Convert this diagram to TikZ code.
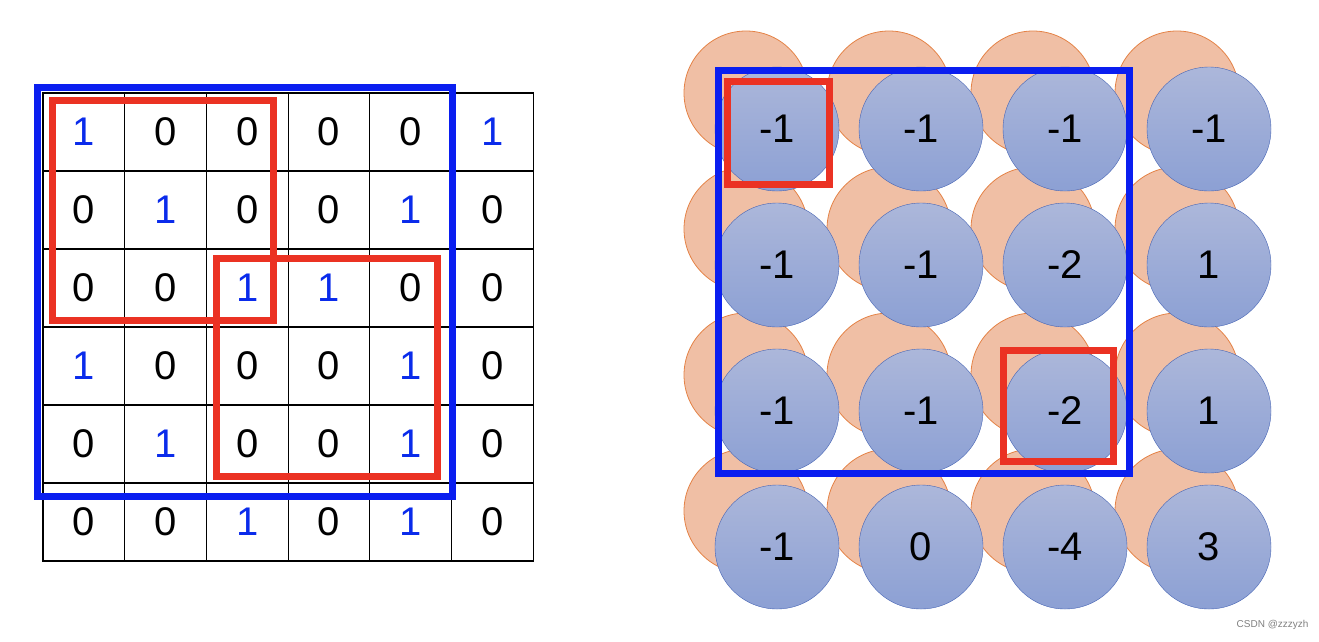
\documentclass[tikz,border=0pt]{standalone}
\usepackage{fontspec}
\setmainfont{Liberation Sans}
\begin{document}
\begin{tikzpicture}[x=1pt,y=-1pt,
 cell/.style={draw=black,line width=1.2pt,minimum width=81.7pt,minimum height=78pt,inner sep=0pt,font=\fontsize{40}{40}\selectfont},
 bl/.style={text={rgb,255:red,10;green,43;blue,235}},
 oc/.style={circle,draw={rgb,255:red,228;green,130;blue,70},line width=0.8pt,fill={rgb,255:red,240;green,191;blue,165},minimum size=124pt,inner sep=0pt},
 bc/.style={circle,draw={rgb,255:red,70;green,100;blue,180},top color={rgb,255:red,172;green,183;blue,218},bottom color={rgb,255:red,140;green,160;blue,212},minimum size=124pt,inner sep=0pt,font=\fontsize{40}{40}\selectfont},
 bframe/.style={draw={rgb,255:red,10;green,30;blue,240},line width=7pt},
 rframe/.style={draw={rgb,255:red,235;green,50;blue,35},line width=7pt}]
\useasboundingbox (0,0) rectangle (1319,641);
\foreach \r/\vals in {0/{1,0,0,0,0,1},1/{0,1,0,0,1,0},2/{0,0,1,1,0,0},3/{1,0,0,0,1,0},4/{0,1,0,0,1,0},5/{0,0,1,0,1,0}}{
  \foreach \v [count=\c from 0] in \vals {
    \ifnum\v=1
      \node[cell,bl] (g\r\c) at ({43+81.7*\c+40.85},{93+78*\r+39}) {\v};
    \else
      \node[cell] (g\r\c) at ({43+81.7*\c+40.85},{93+78*\r+39}) {\v};
    \fi
  }
}
\draw[bframe] (37,87) rectangle (452,496);
\draw[rframe] (52,100) rectangle (273,320);
\draw[rframe] (216,258) rectangle (437,476);
\foreach \r/\y in {0/129,1/265,2/411,3/547}{
  \foreach \c/\x in {0/777,1/920,2/1064,3/1208}{
    \node[oc] (o\r\c) at ({\x-31},{\y-36}) {};
  }
}
\foreach \r/\y/\vals in {0/129/{-1,-1,-1,-1},1/265/{-1,-1,-2,1},2/411/{-1,-1,-2,1},3/547/{-1,0,-4,3}}{
  \foreach \v [count=\c from 0] in \vals {
    \pgfmathsetmacro\x{777+144*\c}
    \node[bc] (b\r\c) at (\x,\y) {\v};
  }
}
\draw[bframe] (718,70) rectangle (1129,473);
\draw[rframe] (727,81) rectangle (829,184);
\draw[rframe] (1003,350) rectangle (1113,461);
\node[anchor=south east,text=gray,font=\fontsize{10}{10}\selectfont] (wm) at (1312,633) {CSDN @zzzyzh};
\end{tikzpicture}
\end{document}
